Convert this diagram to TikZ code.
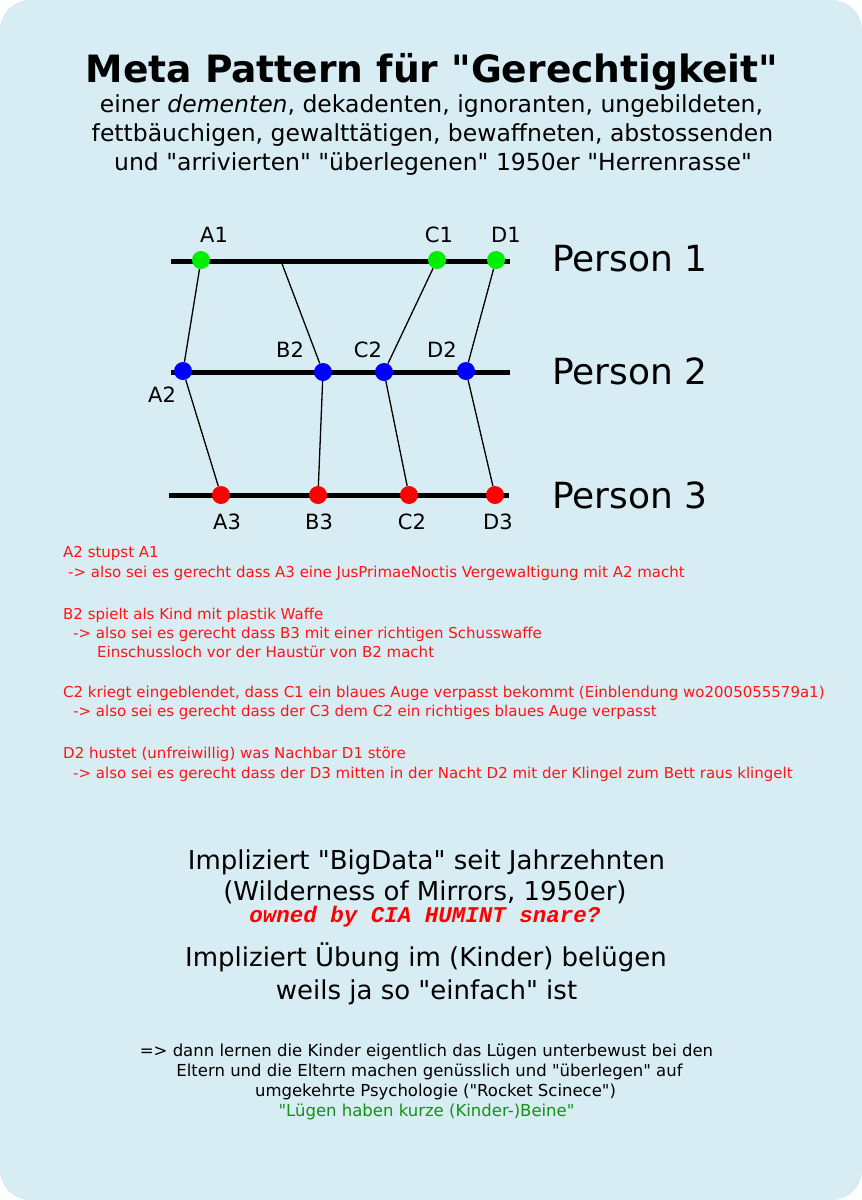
\documentclass[tikz,border=0pt]{standalone}
\usepackage{fontspec}
\setmainfont{DejaVu Sans}[Ligatures=TeXOff]
\setmonofont{Liberation Mono}[Ligatures=TeXOff]
\definecolor{bgblue}{RGB}{215,237,243}
\definecolor{dotgreen}{RGB}{0,238,0}
\definecolor{dotblue}{RGB}{0,0,255}
\definecolor{dotred}{RGB}{255,0,0}
\definecolor{txtred}{RGB}{255,20,20}
\definecolor{txtgreen}{RGB}{20,145,20}
\begin{document}
\begin{tikzpicture}[x=1pt,y=-1pt,
  dotnode/.style={circle, inner sep=0pt, minimum size=18pt},
  gdot/.style={dotnode, fill=dotgreen},
  bdot/.style={dotnode, fill=dotblue},
  rdot/.style={dotnode, fill=dotred},
  lbl/.style={inner sep=0pt, font=\fontsize{21}{25}\selectfont},
  person/.style={inner sep=0pt, anchor=base west, font=\fontsize{36}{42}\selectfont},
  pline/.style={line width=5pt},
  conn/.style={line width=1.3pt},
  rtxt/.style={inner sep=0pt, anchor=base west, text=txtred, font=\fontsize{15}{18}\selectfont},
  ctxt/.style={inner sep=0pt, anchor=base},
  sub/.style={ctxt, font=\fontsize{23.5}{29}\selectfont},
  big/.style={ctxt, font=\fontsize{26}{32}\selectfont},
  small/.style={ctxt, font=\fontsize{16.5}{20}\selectfont}
]
\path[use as bounding box] (0,0) rectangle (862,1200);
\fill[bgblue, rounded corners=30pt] (0,0) rectangle (862,1200);

% title
\node[ctxt, font=\fontsize{37.6}{46}\selectfont\bfseries] (title) at (432,82) {Meta Pattern für "Gerechtigkeit"};
\node[sub] (s1) at (431.5,112) {einer \textit{dementen}, dekadenten, ignoranten, ungebildeten,};
\node[sub] (s2) at (432.5,141) {fettbäuchigen, gewalttätigen, bewaffneten, abstossenden};
\node[sub] (s3) at (433,170) {und "arrivierten" "überlegenen" 1950er "Herrenrasse"};

% person lines
\coordinate (p1l) at (171,261); \coordinate (p1r) at (510,261);
\coordinate (p2l) at (171,372); \coordinate (p2r) at (510,372);
\coordinate (p3l) at (169,495); \coordinate (p3r) at (509,495);
\draw[pline] (p1l) -- (p1r);
\draw[pline] (p2l) -- (p2r);
\draw[pline] (p3l) -- (p3r);
\coordinate (b1) at (281,261);

% dots
\node[gdot] (A1) at (201,260) {};
\node[gdot] (C1) at (437,260) {};
\node[gdot] (D1) at (496,260) {};
\node[bdot] (A2) at (183,371) {};
\node[bdot] (B2) at (323,372) {};
\node[bdot] (C2) at (384,372) {};
\node[bdot] (D2) at (466,371) {};
\node[rdot] (A3) at (221,495) {};
\node[rdot] (B3) at (318,495) {};
\node[rdot] (C3) at (409,495) {};
\node[rdot] (D3) at (495,495) {};

% connectors
\draw[conn] (A1) -- (A2);
\draw[conn] (b1) -- (B2);
\draw[conn] (C1) -- (C2);
\draw[conn] (D1) -- (D2);
\draw[conn] (A2) -- (A3);
\draw[conn] (B2) -- (B3);
\draw[conn] (C2) -- (C3);
\draw[conn] (D2) -- (D3);

% labels
\node[lbl] (lA1) at (214,235) {A1};
\node[lbl] (lC1) at (439,235) {C1};
\node[lbl] (lD1) at (506,235) {D1};
\node[lbl] (lB2) at (290,350) {B2};
\node[lbl] (lC2) at (368,350) {C2};
\node[lbl] (lD2) at (442,350) {D2};
\node[lbl] (lA2) at (162,395) {A2};
\node[lbl] (lA3) at (227,522) {A3};
\node[lbl] (lB3) at (319,522) {B3};
\node[lbl] (lC3) at (412,522) {C2};
\node[lbl] (lD3) at (498,522) {D3};

\node[person] (P1) at (552,271) {Person 1};
\node[person] (P2) at (552,384) {Person 2};
\node[person] (P3) at (552,508) {Person 3};

% red explanations
\node[rtxt] (r1) at (63,557) {A2 stupst A1};
\node[rtxt] (r2) at (68,577) {-> also sei es gerecht dass A3 eine JusPrimaeNoctis Vergewaltigung mit A2 macht};
\node[rtxt] (r3) at (63,619) {B2 spielt als Kind mit plastik Waffe};
\node[rtxt] (r4) at (73,638) {-> also sei es gerecht dass B3 mit einer richtigen Schusswaffe};
\node[rtxt] (r5) at (97,657) {Einschussloch vor der Haustür von B2 macht};
\node[rtxt] (r6) at (63,697) {C2 kriegt eingeblendet, dass C1 ein blaues Auge verpasst bekommt (Einblendung wo2005055579a1)};
\node[rtxt] (r7) at (73,716) {-> also sei es gerecht dass der C3 dem C2 ein richtiges blaues Auge verpasst};
\node[rtxt] (r8) at (63,758) {D2 hustet (unfreiwillig) was Nachbar D1 störe};
\node[rtxt] (r9) at (73,778) {-> also sei es gerecht dass der D3 mitten in der Nacht D2 mit der Klingel zum Bett raus klingelt};

% bottom block
\node[big] (i1) at (426.5,869) {Impliziert "BigData" seit Jahrzehnten};
\node[big] (i2) at (425,900) {(Wilderness of Mirrors, 1950er)};
\node[ctxt, text=dotred, font=\fontsize{22.5}{28}\selectfont\ttfamily\bfseries\itshape] (i3) at (425,922) {owned by CIA HUMINT snare?};
\node[big] (i4) at (426,966) {Impliziert Übung im (Kinder) belügen};
\node[big] (i5) at (426.5,999) {weils ja so "einfach" ist};

\node[small] (e1) at (426.5,1056) {=> dann lernen die Kinder eigentlich das Lügen unterbewust bei den};
\node[small] (e2) at (429.5,1076) {Eltern und die Eltern machen genüsslich und "überlegen" auf};
\node[small] (e3) at (435.5,1096) {umgekehrte Psychologie ("Rocket Scinece")};
\node[small, text=txtgreen] (e4) at (426.5,1116) {"Lügen haben kurze (Kinder-)Beine"};
\end{tikzpicture}
\end{document}
